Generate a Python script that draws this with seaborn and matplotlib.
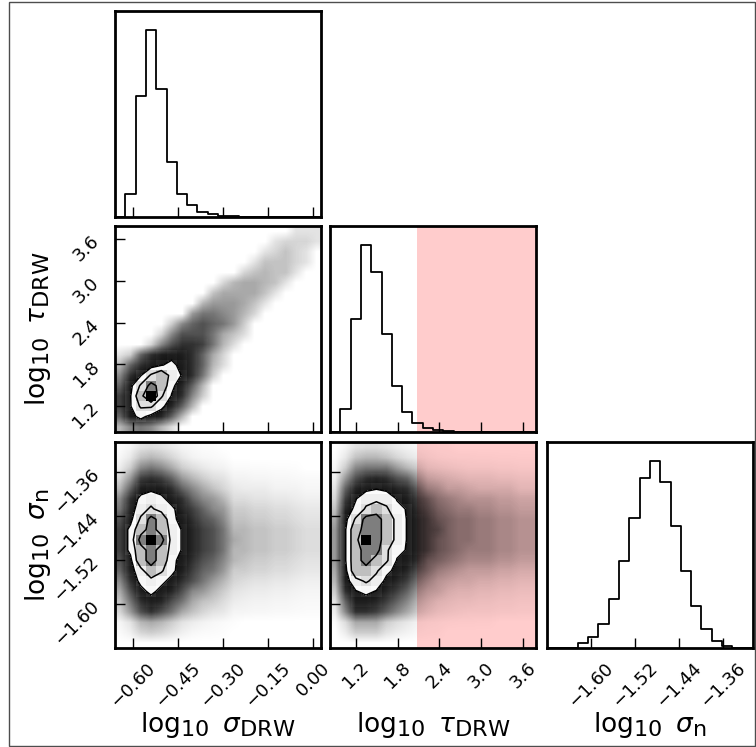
"""
Corner plot of a DRW posterior: log10 sigma_DRW, log10 tau_DRW, log10 sigma_n.
Marginal histograms and 2D densities were read off the reference picture.
"""

import numpy as np
import matplotlib
matplotlib.use("Agg")
import matplotlib.pyplot as plt
import matplotlib._mathtext as _mathtext
import seaborn as sns
from matplotlib.colors import LinearSegmentedColormap
from matplotlib.patches import Rectangle

# ── 1. Data ──────────────────────────────────────────────────────────────────

labels = [r"$\log_{10}\ \sigma_{\rm DRW}$",
          r"$\log_{10}\ \tau_{\rm DRW}$",
          r"$\log_{10}\ \sigma_{\rm n}$"]

ranges = [(-0.66, 0.025), (0.83, 3.79), (-1.68, -1.306)]

ticks = [[-0.60, -0.45, -0.30, -0.15, 0.00],
         [1.2, 1.8, 2.4, 3.0, 3.6],
         [-1.60, -1.52, -1.44, -1.36]]

tau_cut = 2.08          # start of the shaded tau band

# 20-bin marginals (arbitrary units)
sig_counts = [0, 70, 361, 560, 383, 165, 70, 35, 16, 10, 3, 2, 1, 1, 1, 0, 0, 0, 0, 0]
tau_counts = [0, 69, 335, 557, 477, 292, 137, 59, 27, 12, 7, 2, 1, 1, 1, 1, 0, 0, 0, 0]
sn_counts = [0, 0, 0, 15, 33, 72, 147, 260, 390, 507, 560, 495, 365, 230, 125, 57, 20, 5, 0, 0]

# 2D densities on the same 20x20 bins, top row first.
# one base-36 char per cell: 0 = empty, z = peak, one step = factor sqrt(2)
tau_sig_cells = [
    "00000000000000000ccc",
    "000000000000000ceeec",
    "00000000000000cegec0",
    "0000000000000cgggec0",
    "000000000000eghggc00",
    "0000000000ehiihgc000",
    "000000000giiiigc0000",
    "00000000hjjjigc00000",
    "0000000jllkjhe000000",
    "00000fkmnmljf0000000",
    "0000eknnnligd0000000",
    "000eknppolhd00000000",
    "cfmprsrpmie000000000",
    "hmprtuspmhd000000000",
    "kptwxvtplf0000000000",
    "mswyxuqmh00000000000",
    "otxzwtpkf00000000000",
    "otwwuqmh000000000000",
    "msusqmh0000000000000",
    "hklkhd00000000000000",
]

sn_sig_cells = [
    "27cdca75210000000000",
    "6bghgeb8653000000000",
    "afklkifdb98443322100",
    "ejopomjhfdc887766544",
    "hmrsrpmkigebaaa88866",
    "kpuvurpmkjhddccbba99",
    "lqvwvuqomkjffeeddcbb",
    "nswyxuspnmkggffeedcc",
    "ouxyxvtqonlhhggffedd",
    "ouyzyvtqonlihggffedd",
    "ouxyxvtqonlhhggffedd",
    "nsxyxuspnmkhgffeedcc",
    "mrvxwuromljffeeddcbb",
    "kpuvuspnljhedccbba99",
    "insusqnkjhfcbaa99877",
    "glprqnligfda98877655",
    "ejnpnligecb776655433",
    "7chihfca864100000000",
    "49efec96431000000000",
    "00000000000000000000",
]

sn_tau_cells = [
    "07cddca8642100000000",
    "1bghhgeca86544332211",
    "6fkllljhfcba98887766",
    "9jnpqpnmjgfedcccbbaa",
    "cmqstsqpmjiggfeeeecc",
    "eotvvvtromkjihhhggff",
    "gquwxwutpnlkjjiihhgg",
    "iswyyxvtqomlkkjjiihh",
    "jtxyyxvtqonlkkjjiihh",
    "jtxzyxvtqomlkkjjiihh",
    "jtxyywutqomlkjjjiihh",
    "jtxyxwtspmlkjiiihhgg",
    "isxxwusqnljihgggffee",
    "hrvwvsqoljhgffeeddcc",
    "fptutqomjhgeddccbbaa",
    "cmrrqomkhfdcbbaa9988",
    "akppomkifdba98887766",
    "3diiifdb865322110000",
    "0afffca8532000000000",
    "00000000000000000000",
]

# ── 2. Style ─────────────────────────────────────────────────────────────────

sns.set_style("white")
plt.rcParams.update({
    "font.family": ["DejaVu Sans"],
    "mathtext.fontset": "dejavusans",
    "text.color": "black",
    "axes.labelcolor": "black",
    "axes.edgecolor": "black",
    "axes.linewidth": 2.0,
    "xtick.color": "black",
    "ytick.color": "black",
})
_mathtext.SHRINK_FACTOR = 0.85      # subscripts in the reference are barely shrunk

cloud_cmap = LinearSegmentedColormap.from_list("cloud", [(0, 0, 0, 0), (0, 0, 0, 1)])
density_cmap = LinearSegmentedColormap.from_list("density", [(0, 0, 0, 1), (1, 1, 1, 0)])
sigma_levels = np.exp(-0.5 * np.array([2.0, 1.5, 1.0, 0.5]) ** 2)


def decode(cells):
    assert all(len(row) == 20 for row in cells) and len(cells) == 20
    lev = np.array([[int(ch, 36) for ch in row] for row in cells], dtype=float)[::-1]
    return np.where(lev > 0, 2.0 ** ((lev - 35.0) / 2.0), 0.0)


def centers(edges):
    return 0.5 * (edges[1:] + edges[:-1])


def draw_hist(ax, counts, xr):
    edges = np.linspace(*xr, len(counts) + 1)
    sns.histplot(x=centers(edges), weights=np.asarray(counts, float),
                 bins=len(counts), binrange=xr, element="step",
                 fill=False, color="k", linewidth=1.3, ax=ax)
    ax.set_xlim(xr)
    ax.set_ylim(0, 1.1 * max(counts))
    ax.set_ylabel("")
    ax.set_yticks([])


def draw_2d(ax, cells, xr, yr):
    H = decode(cells)
    xe = np.linspace(*xr, H.shape[1] + 1)
    ye = np.linspace(*yr, H.shape[0] + 1)
    xc, yc = centers(xe), centers(ye)

    # the sample cloud, shown as a smooth shade of the density
    cloud = 1.0 - np.exp(-(H / 0.012) ** 0.6)
    ax.imshow(cloud, extent=(xr[0], xr[1], yr[0], yr[1]), origin="lower",
              aspect="auto", interpolation="bilinear", cmap=cloud_cmap,
              vmin=0, vmax=1, zorder=1)

    lev = sigma_levels * H.max()
    ax.contourf(xc, yc, H, [lev[0], H.max() * 1.01], colors="white",
                antialiased=False, zorder=2)
    ax.pcolormesh(xe, ye, H.max() - H, cmap=density_cmap,
                  vmin=0, vmax=H.max(), zorder=3)
    ax.contour(xc, yc, H, lev, colors="k", linewidths=1.1, zorder=4)
    ax.set_xlim(xr)
    ax.set_ylim(yr)


# ── 3. Figure ────────────────────────────────────────────────────────────────

fig = plt.figure(figsize=(7.56, 7.47), dpi=100)
px_w, px_h = 756, 747
col_left = [115, 330, 547]
row_top = [11, 226, 442]
box = 206

hists = [sig_counts, tau_counts, sn_counts]
pairs = {(1, 0): tau_sig_cells, (2, 0): sn_sig_cells, (2, 1): sn_tau_cells}

for i in range(3):
    for j in range(i + 1):
        ax = fig.add_axes([col_left[j] / px_w, 1 - (row_top[i] + box) / px_h,
                           box / px_w, box / px_h])
        if j == 1:
            ax.axvspan(tau_cut, ranges[1][1], color="red", alpha=0.2, lw=0, zorder=0)

        if i == j:
            draw_hist(ax, hists[i], ranges[i])
        else:
            draw_2d(ax, pairs[i, j], ranges[j], ranges[i])
            ax.set_yticks(ticks[i])

        ax.set_xticks(ticks[j])
        ax.tick_params(which="both", direction="in", length=7, width=1.0,
                       bottom=True, left=True, top=False, right=False,
                       labelsize=13)
        ax.tick_params(axis="x", labelrotation=45, pad=8)
        ax.tick_params(axis="y", labelrotation=45, pad=9)
        for side in ax.spines.values():
            side.set_visible(True)
            side.set_linewidth(2.0)
            side.set_color("black")

        if i == 2:
            ax.set_xlabel(labels[j], fontsize=19)
            ax.xaxis.set_label_coords(0.5, -0.3)
        else:
            ax.tick_params(labelbottom=False)
            ax.set_xlabel("")
        if j == 0 and i > 0:
            ax.set_ylabel(labels[i], fontsize=19)
            ax.yaxis.set_label_coords(-0.3, 0.5)
        else:
            ax.tick_params(labelleft=False)
            ax.set_ylabel("")

# thin frame round the whole picture
fig.patches.append(Rectangle((8.5 / px_w, 1.5 / px_h), (755 - 8.5) / px_w,
                             (745.5 - 1.5) / px_h, transform=fig.transFigure,
                             fill=False, lw=1.0, ec="0.3"))

fig.savefig("out.png", dpi=100)
plt.close(fig)
